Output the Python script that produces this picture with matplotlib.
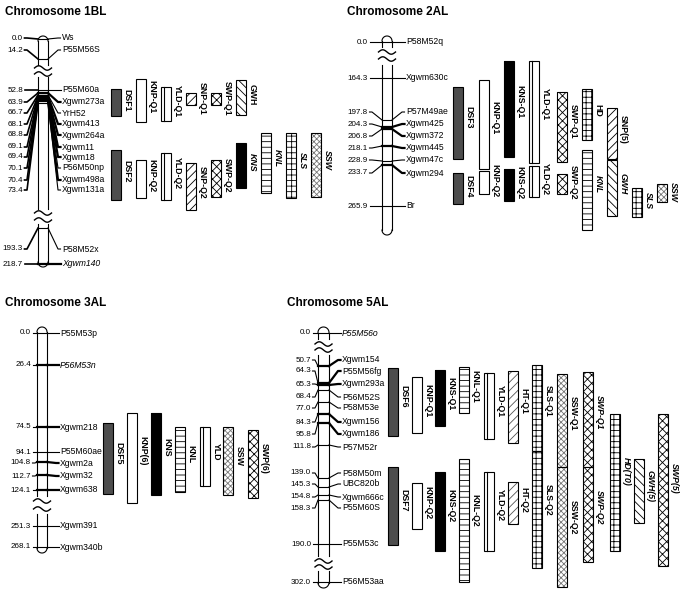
import numpy as np
import matplotlib.pyplot as plt
import matplotlib.patches as mpatches

plt.rcParams['font.family'] = ['Liberation Sans', 'DejaVu Sans']
plt.rcParams['hatch.linewidth'] = 0.6

# ---------------- data ----------------
# Chromosome 1BL
c1_cm = [0.0, 14.2, 52.8, 63.9, 66.7, 68.1, 68.8, 69.1, 69.4, 70.1, 70.4, 73.4, 193.3, 218.7]
c1_markers = ['Ws', 'P55M56S', 'P55M60a', 'Xgwm273a', 'YrH52', 'Xgwm413', 'Xgwm264a',
              'Xgwm11', 'Xgwm18', 'P56M50np', 'Xgwm498a', 'Xgwm131a', 'P58M52x', 'Xgwm140']
c1_qtl = ['DSF1', 'KNP-Q1', 'YLD-Q1', 'SNP-Q1', 'SWP-Q1', 'GWH',
          'DSF2', 'KNP-Q2', 'YLD-Q2', 'SNP-Q2', 'SWP-Q2', 'KNS', 'KNL', 'SLS', 'SSW']
c1_qtl_top = [89, 79, 87, 93, 93, 80, 150, 160, 153, 163, 160, 143, 133, 133, 133]
c1_qtl_bot = [116, 122, 121, 105, 105, 115, 200, 198, 200, 210, 197, 188, 193, 198, 197]
c1_qtl_col = [0, 1, 2, 3, 4, 5, 0, 1, 2, 3, 4, 5, 6, 7, 8]
c1_qtl_italic = ['KNS', 'KNL', 'SLS', 'SSW']

# Chromosome 2AL
c2_cm = [0.0, 164.3, 197.8, 204.3, 206.8, 218.1, 228.9, 233.7, 265.9]
c2_markers = ['P58M52q', 'Xgwm630c', 'P57M49ae', 'Xgwm425', 'Xgwm372', 'Xgwm445',
              'Xgwm47c', 'Xgwm294', 'Br']
c2_qtl = ['DSF3', 'DSF4', 'KNP-Q1', 'KNP-Q2', 'KNS-Q1', 'KNS-Q2', 'YLD-Q1', 'YLD-Q2',
          'SWP-Q1', 'SWP-Q2', 'HD', 'KNL', 'SNP(5)', 'GWH', 'SLS', 'SSW']
c2_qtl_top = [87, 173, 80, 171, 61, 169, 61, 166, 92, 174, 89, 150, 108, 160, 188, 184]
c2_qtl_bot = [159, 204, 169, 194, 157, 201, 163, 197, 162, 194, 140, 230, 159, 216, 217, 202]
c2_qtl_col = [0, 0, 1, 1, 2, 2, 3, 3, 4, 4, 5, 5, 6, 6, 7, 8]
c2_qtl_italic = ['KNL', 'GWH', 'SLS', 'SSW']

# Chromosome 3AL
c3_cm = [0.0, 26.4, 74.5, 94.1, 104.8, 112.7, 124.1, 251.3, 268.1]
c3_markers = ['P55M53p', 'P56M53n', 'Xgwm218', 'P55M60ae', 'Xgwm2a', 'Xgwm32',
              'Xgwm638', 'Xgwm391', 'Xgwm340b']
c3_qtl = ['DSF5', 'KNP(6)', 'KNS', 'KNL', 'YLD', 'SSW', 'SWP(6)']
c3_qtl_top = [423, 413, 413, 427, 427, 427, 430]
c3_qtl_bot = [494, 503, 495, 492, 486, 495, 498]
c3_qtl_col = [0, 1, 2, 3, 4, 5, 6]
c3_qtl_italic = []

# Chromosome 5AL
c4_cm = [0.0, 50.7, 64.3, 65.3, 68.4, 77.0, 84.3, 95.8, 111.8, 139.0, 145.3, 154.8,
         158.3, 190.0, 302.0]
c4_markers = ['P55M56o', 'Xgwm154', 'P55M56fg', 'Xgwm293a', 'P56M52S', 'P58M53e',
              'Xgwm156', 'Xgwm186', 'P57M52r', 'P58M50m', 'UBC820b', 'Xgwm666c',
              'P55M60S', 'P55M53c', 'P56M53aa']
c4_qtl = ['DSF6', 'DSF7', 'KNP-Q1', 'KNP-Q2', 'KNS-Q1', 'KNS-Q2', 'KNL-Q1', 'KNL-Q2',
          'YLD-Q1', 'YLD-Q2', 'HT-Q1', 'HT-Q2', 'SLS-Q1', 'SLS-Q2', 'SSW-Q1', 'SSW-Q2',
          'SWP-Q1', 'SWP-Q2', 'HD(T0)', 'GWH(5)', 'SWP(5)']
c4_qtl_top = [368, 467, 377, 483, 370, 472, 367, 459, 373, 472, 371, 482, 365, 451,
              374, 467, 372, 467, 414, 459, 414]
c4_qtl_bot = [436, 545, 433, 529, 426, 551, 413, 582, 439, 551, 443, 524, 451, 568,
              467, 587, 467, 562, 551, 523, 566]
c4_qtl_col = [0, 0, 1, 1, 2, 2, 3, 3, 4, 4, 5, 5, 6, 6, 7, 7, 8, 8, 9, 10, 11]
c4_qtl_italic = ['SWP-Q1', 'SWP-Q2', 'HD(T0)', 'GWH(5)', 'SWP(5)']

ITALIC_MARKERS = ['Xgwm140', 'P56M53n', 'P55M56o']
BOLD_MARKERS = ['Xgwm273a', 'Xgwm413', 'Xgwm264a', 'Xgwm11', 'Xgwm18', 'Xgwm498a',
                'Xgwm140', 'Xgwm425', 'Xgwm372', 'Xgwm445', 'Xgwm294', 'P56M53n',
                'Xgwm218', 'Xgwm2a', 'Xgwm32', 'Xgwm638', 'Xgwm154', 'P55M56fg',
                'Xgwm293a', 'Xgwm156', 'Xgwm186']

# ---------------- layout (page pixels) ----------------
lay1 = dict(title='Chromosome 1BL', tx=5, ty=12, x0=38, w=10, top=36, bot=267,
            segs=[(41, 65), (77, 209), (224, 262)], tildes=[68, 74, 213, 220],
            num_right=23, lab_left=62, left_lw=1.2,
            lab_y=[38, 50, 90, 102, 113, 124, 135, 147, 157, 168, 180, 190, 249, 264],
            inner_y=[39, 59, 90, 93, 95, 96, 97, 98, 99, 100, 101, 103, 228, 264],
            cols=[111, 136, 161, 186, 211, 236, 261, 286, 311])
lay2 = dict(title='Chromosome 2AL', tx=347, ty=12, x0=382, w=10, top=36, bot=235,
            segs=[(41, 47), (65, 230)], tildes=[52, 59],
            num_right=368, lab_left=406, left_lw=0.8,
            lab_y=[42, 78, 112, 124, 136, 148, 160, 173, 206],
            inner_y=[42, 78, 120, 127, 129, 146, 161, 165, 206],
            cols=[453, 479, 504, 529, 557, 582, 607, 632, 657])
lay3 = dict(title='Chromosome 3AL', tx=5, ty=303, x0=37, w=10, top=327, bot=553,
            segs=[(332, 496), (514, 548)], tildes=[501, 509],
            num_right=31, lab_left=60, left_lw=0.8,
            lab_y=[333, 365, 427, 452, 463, 476, 490, 526, 547],
            inner_y=[333, 365, 427, 452, 462, 475, 490, 526, 547],
            cols=[103, 127, 151, 175, 200, 223, 248])
lay4 = dict(title='Chromosome 5AL', tx=287, ty=303, x0=318, w=11, top=327, bot=588,
            segs=[(332.5, 339), (355, 556), (571, 582.5)], tildes=[344, 350, 561, 567],
            num_right=311, lab_left=342, left_lw=0.8,
            lab_y=[333, 360, 371, 384, 397, 408, 422, 434, 447, 473, 484, 497, 508, 544, 582],
            inner_y=[333, 366, 383, 385, 390, 402, 414, 423, 445, 478, 487, 495, 500, 544, 582],
            cols=[388, 412, 435, 459, 484, 508, 532, 557, 583, 610, 634, 658])

BAR_W = 10
STYLE = {
    'DSF': dict(fc='#4d4d4d', hatch=None, hc='#4d4d4d'),
    'KNP': dict(fc='white', hatch=None, hc='black'),
    'KNS': dict(fc='black', hatch=None, hc='black'),
    'YLD': dict(fc='white', hatch=None, hc='black'),
    'SNP': dict(fc='white', hatch='////', hc='black'),
    'HT': dict(fc='white', hatch='////', hc='#555555'),
    'GWH': dict(fc='white', hatch='\\\\\\\\', hc='black'),
    'SWP': dict(fc='white', hatch='xxxx', hc='black'),
    'SSW': dict(fc='white', hatch='xxxxxx', hc='#777777'),
    'KNL': dict(fc='white', hatch='---', hc='black'),
    'SLS': dict(fc='white', hatch='+++', hc='black'),
    'HD': dict(fc='white', hatch='+++', hc='black'),
}

fig = plt.figure(figsize=(6.8, 5.92), dpi=100)
ax = fig.add_axes([0, 0, 1, 1])
ax.set_xlim(0, 680)
ax.set_ylim(592, 0)
ax.axis('off')


def tilde(xc, y, half=8.5, amp=2.2):
    xs = np.linspace(xc - half, xc + half, 40)
    ys = y - amp * np.sin((xs - xc + half) / (2 * half) * 2 * np.pi)
    ax.plot(xs, ys, color='black', lw=1.0)


def chromosome(lay):
    x0, w = lay['x0'], lay['w']
    r = w / 2
    xc = x0 + r
    t = np.linspace(0, np.pi, 40)
    ax.plot(xc + r * np.cos(t), lay['top'] + r - r * np.sin(t), color='black', lw=0.8)
    ax.plot(xc + r * np.cos(t), lay['bot'] - r + r * np.sin(t), color='black', lw=0.8)
    for a, b in lay['segs']:
        ax.plot([x0, x0], [a, b], color='black', lw=0.8)
        ax.plot([x0 + w, x0 + w], [a, b], color='black', lw=0.8)
    for y in lay['tildes']:
        tilde(xc, y)


def markers(lay, cms, names):
    xl, xr = lay['x0'], lay['x0'] + lay['w']
    nr, ll = lay['num_right'], lay['lab_left']
    for cm, nm, ly, iy in zip(cms, names, lay['lab_y'], lay['inner_y']):
        lw = 1.6 if nm in BOLD_MARKERS else 0.8
        ax.plot([nr + 1.5, nr + 4, xl], [ly, ly, iy], color='black', lw=lay['left_lw'])
        ax.plot([xl, xr], [iy, iy], color='black', lw=lw)
        ax.plot([xr, ll - 4, ll - 1.5], [iy, ly, ly], color='black', lw=lw)
        ax.text(nr, ly, f'{cm:.1f}', ha='right', va='center', fontsize=5.8)
        ax.text(ll, ly, nm, ha='left', va='center', fontsize=6.2,
                style='italic' if nm in ITALIC_MARKERS else 'normal')


def qtls(lay, names, tops, bots, cols, italics):
    for nm, top, bot, c in zip(names, tops, bots, cols):
        kind = ''.join(ch for ch in nm.split('-')[0].split('(')[0] if ch.isalpha())
        st = STYLE[kind]
        x = lay['cols'][c]
        h = bot - top
        ax.add_patch(mpatches.Rectangle((x, top), BAR_W, h, facecolor=st['fc'],
                                        edgecolor=st['hc'], hatch=st['hatch'], lw=0))
        ax.add_patch(mpatches.Rectangle((x, top), BAR_W, h, fill=False,
                                        edgecolor='black', lw=0.8))
        if kind == 'YLD':
            ax.plot([x + 0.3 * BAR_W] * 2, [top, bot], color='black', lw=0.8)
        ax.text(x + BAR_W + 6, top + 0.42 * h, nm, rotation=270, ha='center',
                va='center', fontsize=6.3, fontweight='bold',
                style='italic' if nm in italics else 'normal')


panels = [
    (lay1, c1_cm, c1_markers, c1_qtl, c1_qtl_top, c1_qtl_bot, c1_qtl_col, c1_qtl_italic),
    (lay2, c2_cm, c2_markers, c2_qtl, c2_qtl_top, c2_qtl_bot, c2_qtl_col, c2_qtl_italic),
    (lay3, c3_cm, c3_markers, c3_qtl, c3_qtl_top, c3_qtl_bot, c3_qtl_col, c3_qtl_italic),
    (lay4, c4_cm, c4_markers, c4_qtl, c4_qtl_top, c4_qtl_bot, c4_qtl_col, c4_qtl_italic),
]

for lay, cms, names, qn, qt, qb, qc, qi in panels:
    ax.text(lay['tx'], lay['ty'], lay['title'], fontsize=8.5, fontweight='bold',
            ha='left', va='center')
    chromosome(lay)
    markers(lay, cms, names)
    qtls(lay, qn, qt, qb, qc, qi)

fig.savefig('out.png', dpi=100)
